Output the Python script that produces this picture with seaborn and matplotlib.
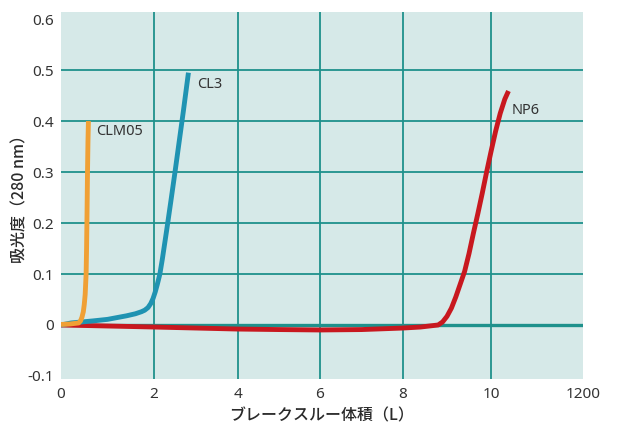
import numpy as np
import pandas as pd
import matplotlib
matplotlib.use("Agg")
import matplotlib.pyplot as plt
import seaborn as sns

# Breakthrough curves: absorbance (280 nm) vs. breakthrough volume (L)
clm05_x = [0, 0.2, 0.38, 0.42, 0.45, 0.48, 0.50, 0.52, 0.54, 0.55, 0.56, 0.57, 0.58, 0.59]
clm05_y = [0.001, 0.002, 0.004, 0.008, 0.015, 0.026, 0.04, 0.06, 0.10, 0.15, 0.22, 0.30,
           0.36, 0.40]

cl3_x = [0, 0.22, 0.69, 1.0, 1.41, 1.6, 1.73, 1.8, 1.87, 1.93, 1.98, 2.03, 2.08, 2.14,
         2.2, 2.3, 2.4, 2.5, 2.6, 2.7, 2.82]
cl3_y = [0, 0.004, 0.008, 0.011, 0.018, 0.022, 0.026, 0.029, 0.034, 0.042, 0.052, 0.065,
         0.08, 0.10, 0.13, 0.185, 0.242, 0.30, 0.36, 0.42, 0.495]

np6_x = [0, 1, 2, 3, 4, 5, 6, 7, 8, 8.4, 8.8, 8.9, 9.0, 9.1, 9.2, 9.3, 9.4, 9.5, 9.6,
         9.7, 9.8, 9.9, 10.0, 10.1, 10.2, 10.3, 10.38]
np6_y = [0, -0.002, -0.004, -0.006, -0.008, -0.009, -0.0098, -0.009, -0.006, -0.004,
         0.0, 0.006, 0.017, 0.033, 0.055, 0.08, 0.105, 0.14, 0.18, 0.218, 0.258, 0.30,
         0.34, 0.38, 0.415, 0.443, 0.459]

series_names = ["NP6", "CL3", "CLM05"]
x_ticks = [0, 2, 4, 6, 8, 10, 12]
x_tick_labels = ["0", "2", "4", "6", "8", "10", "1200"]
y_ticks = [-0.1, 0, 0.1, 0.2, 0.3, 0.4, 0.5, 0.6]
y_tick_labels = ["-0.1", "0", "0.1", "0.2", "0.3", "0.4", "0.5", "0.6"]
x_grid = [2, 4, 6, 8, 10]
y_grid = [0.1, 0.2, 0.3, 0.4, 0.5]

df = pd.concat([
    pd.DataFrame({"volume": np6_x, "absorbance": np6_y, "series": "NP6"}),
    pd.DataFrame({"volume": cl3_x, "absorbance": cl3_y, "series": "CL3"}),
    pd.DataFrame({"volume": clm05_x, "absorbance": clm05_y, "series": "CLM05"}),
], ignore_index=True)

palette = {"NP6": "#c8181f", "CL3": "#1f93b2", "CLM05": "#f0a035"}
bg = "#d6e9e8"
grid_c = "#1f918c"
text_c = "#333333"

sns.set_style("white")
plt.rcParams["font.family"] = ["Noto Sans", "Noto Sans CJK JP", "DejaVu Sans"]
plt.rcParams["axes.unicode_minus"] = False

fig = plt.figure(figsize=(6.2, 4.24), dpi=100)
ax = fig.add_axes([61 / 620, 1 - 378.5 / 424, (583 - 61) / 620, (378.5 - 12) / 424])
ax.set_facecolor(bg)

# piecewise-linear horizontal scale (tick spacing on this axis is uneven)
scale_px = np.array([61, 154, 238, 320, 403, 491, 583], dtype=float)
scale_val = np.array(x_ticks, dtype=float)


def _fwd(x):
    x = np.asarray(x, dtype=float)
    out = np.interp(x, scale_val, scale_px)
    lo, hi = x < scale_val[0], x > scale_val[-1]
    out = np.where(lo, scale_px[0] + (x - scale_val[0]) * (scale_px[1] - scale_px[0]) / 2, out)
    out = np.where(hi, scale_px[-1] + (x - scale_val[-1]) * (scale_px[-1] - scale_px[-2]) / 2, out)
    return out


def _inv(p):
    p = np.asarray(p, dtype=float)
    out = np.interp(p, scale_px, scale_val)
    lo, hi = p < scale_px[0], p > scale_px[-1]
    out = np.where(lo, scale_val[0] + (p - scale_px[0]) * 2 / (scale_px[1] - scale_px[0]), out)
    out = np.where(hi, scale_val[-1] + (p - scale_px[-1]) * 2 / (scale_px[-1] - scale_px[-2]), out)
    return out


ax.set_xscale("function", functions=(_fwd, _inv))

for v in x_grid:
    ax.axvline(v, color=grid_c, lw=1.3, zorder=1)
for v in y_grid:
    ax.axhline(v, color=grid_c, lw=1.3, zorder=1)
ax.axhline(0, color=grid_c, lw=2.4, zorder=1)

sns.lineplot(data=df, x="volume", y="absorbance", hue="series", hue_order=series_names,
             palette=palette, sort=False, estimator=None, linewidth=3.5,
             solid_capstyle="butt", solid_joinstyle="round", legend=False, ax=ax, zorder=3)

# series labels next to the curve ends
ends = {"CLM05": (clm05_x[-1], clm05_y[-1], (8, -10)),
        "CL3": (cl3_x[-1], cl3_y[-1], (9, -12)),
        "NP6": (np6_x[-1], np6_y[-1], (3, -19))}
for name, (ex, ey, off) in ends.items():
    ax.annotate(name, (ex, ey), xytext=off, textcoords="offset pixels",
                ha="left", va="center", fontsize=10.5, color=text_c)

ax.set_xlim(0, 12)
ax.set_ylim(-0.105, 0.614)
ax.set_xticks(x_ticks)
ax.set_xticklabels(x_tick_labels)
ax.set_yticks(y_ticks)
ax.set_yticklabels(y_tick_labels)
ax.tick_params(axis="both", length=0, labelsize=11, labelcolor=text_c)
ax.tick_params(axis="x", pad=6)
ax.tick_params(axis="y", pad=5)
for s in ax.spines.values():
    s.set_visible(False)

ax.set_xlabel("ブレークスルー体積（L）", family=["Noto Sans CJK JP", "DejaVu Sans"],
              fontsize=11.5, fontweight="medium", color="#2a2a2a")
ax.set_ylabel("吸光度（280 nm）", family=["Noto Sans CJK JP", "DejaVu Sans"],
              fontsize=11.5, fontweight="medium", color="#2a2a2a")
ax.xaxis.label.set_va("center")
ax.yaxis.label.set_va("center")
ax.xaxis.set_label_coords(0.5, (378.5 - 415.5) / 366.5)
ax.yaxis.set_label_coords((20 - 61) / 522, 0.5)

fig.savefig("out.png", dpi=100)
